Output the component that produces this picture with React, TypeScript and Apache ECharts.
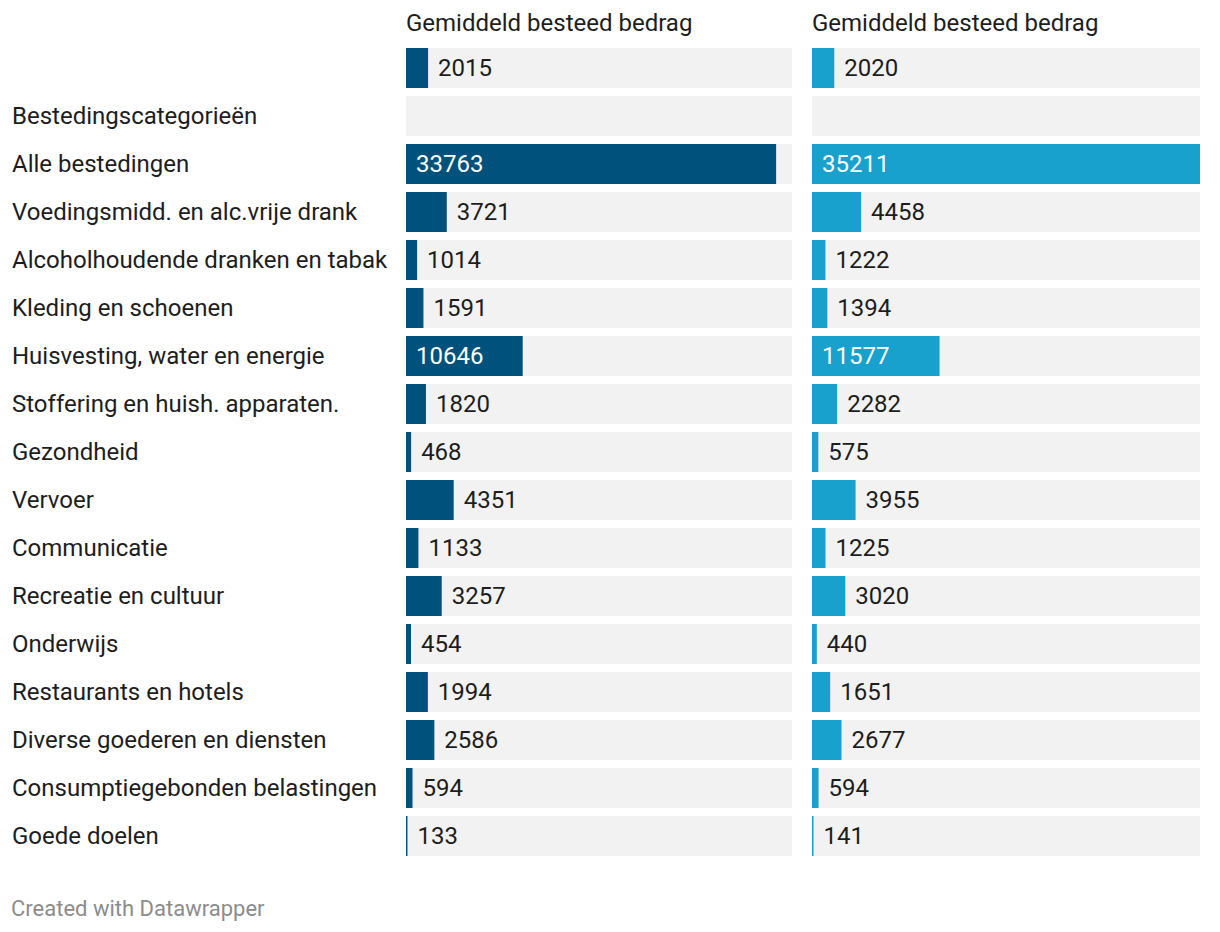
import React, { useEffect, useRef } from "react";
import * as echarts from "echarts";

const categories: string[] = [
  "",
  "Bestedingscategorieën",
  "Alle bestedingen",
  "Voedingsmidd. en alc.vrije drank",
  "Alcoholhoudende dranken en tabak",
  "Kleding en schoenen",
  "Huisvesting, water en energie",
  "Stoffering en huish. apparaten.",
  "Gezondheid",
  "Vervoer",
  "Communicatie",
  "Recreatie en cultuur",
  "Onderwijs",
  "Restaurants en hotels",
  "Diverse goederen en diensten",
  "Consumptiegebonden belastingen",
  "Goede doelen",
];

const values2015: (number | null)[] = [2015, null, 33763, 3721, 1014, 1591, 10646, 1820, 468, 4351, 1133, 3257, 454, 1994, 2586, 594, 133];
const values2020: (number | null)[] = [2020, null, 35211, 4458, 1222, 1394, 11577, 2282, 575, 3955, 1225, 3020, 440, 1651, 2677, 594, 141];

const columnTitles: string[] = ["Gemiddeld besteed bedrag", "Gemiddeld besteed bedrag"];
const footer = "Created with Datawrapper";

const FONT = "Roboto, 'Noto Sans', sans-serif";
const TEXT = "#1d1d1d";
const FS = 24;

export default function App() {
  const ref = useRef<HTMLDivElement>(null);

  useEffect(() => {
    if (!ref.current) return;
    const chart = echarts.init(ref.current, undefined, { renderer: "svg" });
    const all = [...values2015, ...values2020].filter((v) => v != null) as number[];
    const maxV = Math.max(...all);

    const mkData = (vals: (number | null)[]) =>
      vals.map((v) => {
        if (v == null) return { value: null };
        const inside = v / maxV > 0.25;
        return {
          value: v,
          label: inside
            ? { position: "insideLeft", distance: 10, color: "#ffffff" }
            : { position: "right", distance: 10, color: TEXT },
        };
      });

    const grids = [
      { left: 406, top: 44, width: 386, height: 816 },
      { left: 812, top: 44, width: 388, height: 816 },
    ];
    const colors = ["#00527c", "#18a1cd"];
    const seriesVals = [values2015, values2020];

    chart.setOption({
      animation: false,
      backgroundColor: "#ffffff",
      textStyle: { fontFamily: FONT },
      grid: grids,
      xAxis: grids.map((_, i) => ({
        type: "value",
        gridIndex: i,
        min: 0,
        max: maxV,
        show: false,
      })),
      yAxis: grids.map((_, i) => ({
        type: "category",
        gridIndex: i,
        data: categories,
        inverse: true,
        axisLine: { show: false },
        axisTick: { show: false },
        splitLine: { show: false },
        axisLabel: {
          show: i === 0,
          align: "left",
          margin: 394,
          color: TEXT,
          fontSize: FS,
          fontFamily: FONT,
        },
      })),
      series: seriesVals.map((vals, i) => ({
        type: "bar",
        xAxisIndex: i,
        yAxisIndex: i,
        barWidth: 40,
        showBackground: true,
        backgroundStyle: { color: "#f2f2f2" },
        itemStyle: { color: colors[i] },
        label: {
          show: true,
          fontSize: FS,
          fontFamily: FONT,
          formatter: (p: any) => String(p.value),
        },
        data: mkData(vals),
      })),
      graphic: [
        ...columnTitles.map((t, i) => ({
          type: "text",
          x: grids[i].left,
          y: 23,
          style: {
            text: t,
            fill: TEXT,
            fontSize: FS,
            fontFamily: FONT,
            verticalAlign: "middle",
            align: "left",
          },
        })),
        {
          type: "text",
          x: 11,
          y: 908,
          style: {
            text: footer,
            fill: "#8c8c8c",
            fontSize: 22,
            fontFamily: FONT,
            verticalAlign: "middle",
            align: "left",
          },
        },
      ],
    });
    return () => chart.dispose();
  }, []);

  return (
    <div
      ref={ref}
      style={{ position: "fixed", left: 0, top: 0, width: 1220, height: 932 }}
    />
  );
}
